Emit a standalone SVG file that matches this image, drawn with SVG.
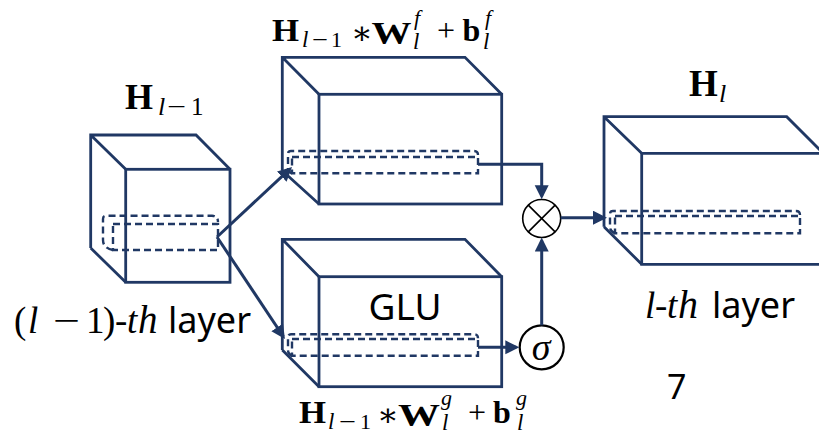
<svg xmlns="http://www.w3.org/2000/svg" width="819" height="434" viewBox="0 0 819 434">
<style>
.e{fill:none;stroke:#203864;stroke-width:2.8}
.d{fill:none;stroke:#203864;stroke-width:2.4;stroke-dasharray:7 4}
.c{fill:none;stroke:#203864;stroke-width:3}
.m{font-family:"Liberation Serif","DejaVu Serif",serif;fill:#000}
.b{font-weight:bold}
.i{font-style:italic}
.s{font-family:"Noto Sans","DejaVu Sans",sans-serif;fill:#000}
.op{fill:#fff;stroke:#000}
</style>
<defs>
<marker id="ah" markerUnits="userSpaceOnUse" markerWidth="15" markerHeight="15" refX="11" refY="7" orient="auto">
<path d="M0,0 L14,7 L0,14 Z" fill="#203864"/>
</marker>
</defs>
<rect width="819" height="434" fill="#fff"/>

<g id="layer-prev">
<path class="e" d="M90.7,248 V135 H196 L230,169.3 M90.7,135 L125.7,169.3 M90.7,248 L125.7,282.3"/>
<rect class="e" x="125.7" y="169.3" width="104.3" height="113"/>
<path class="d" d="M113,250 Q103,248 103,240 V219 Q103,215.7 106,215.7 H212 Q218,216 218,222"/>
<path class="d" d="M113,224 H218 V250 H113 Z"/>
<text class="m" y="109" font-size="36"><tspan class="b" x="125">H</tspan><tspan class="i" x="158" y="115" font-size="26">l</tspan><tspan x="167" y="115" font-size="25" textLength="19" lengthAdjust="spacingAndGlyphs">−</tspan><tspan x="191" y="115" font-size="25">1</tspan></text>
<text y="333" font-size="37"><tspan class="m" x="14">(</tspan><tspan class="m i" x="28">l</tspan><tspan class="m" x="53" textLength="27" lengthAdjust="spacingAndGlyphs">−</tspan><tspan class="m" x="86">1</tspan><tspan class="m" x="103">)</tspan><tspan class="m" x="115">-</tspan><tspan class="m i" x="127">t</tspan><tspan class="m i" x="138" font-size="39">h</tspan><tspan class="s" x="168" font-size="36">layer</tspan></text>
</g>

<g id="conv-f">
<path class="e" d="M282.3,170.7 V57.3 H465 L501.7,94.3 M282.3,57.3 L319,94.3 M282.3,170.7 L319,204"/>
<rect class="e" x="319" y="94.3" width="182.7" height="109.7"/>
<path class="d" d="M292,173.3 Q288,172 288,168 V154 Q288,151 291,151 H474 Q478,151 478,155"/>
<path class="d" d="M292,157 H478 V173.3 H292 Z"/>
<text class="m" y="41" font-size="32"><tspan class="b" x="272" textLength="27" lengthAdjust="spacingAndGlyphs">H</tspan><tspan class="i" x="302" y="47" font-size="23">l</tspan><tspan x="312" y="47" font-size="22" textLength="16" lengthAdjust="spacingAndGlyphs">−</tspan><tspan x="331" y="47" font-size="22">1</tspan><tspan x="351" y="44">∗</tspan><tspan class="b" x="371.5" textLength="40" lengthAdjust="spacingAndGlyphs">W</tspan><tspan class="i" x="414" y="25" font-size="22">f</tspan><tspan class="i" x="413" y="49" font-size="23">l</tspan><tspan x="437" y="41">+</tspan><tspan class="b" x="462.5">b</tspan><tspan class="i" x="485" y="25" font-size="22">f</tspan><tspan class="i" x="483" y="49" font-size="23">l</tspan></text>
</g>

<g id="conv-g">
<path class="e" d="M282.3,350 V239.3 H465 L501.7,276.7 M282.3,239.3 L319,276.7 M282.3,350 L319,386.7"/>
<rect class="e" x="319" y="276.7" width="182.7" height="110"/>
<path class="d" d="M292,355.7 Q288,354 288,350 V337.3 Q288,334.3 291,334.3 H474 Q478,334.3 478,338.3"/>
<path class="d" d="M292,339 H478 V355.7 H292 Z"/>
<text class="s" x="405" y="320" font-size="37" text-anchor="middle">GLU</text>
<text class="m" y="423" font-size="32"><tspan class="b" x="299" textLength="27" lengthAdjust="spacingAndGlyphs">H</tspan><tspan class="i" x="328" y="429" font-size="23">l</tspan><tspan x="339" y="429" font-size="22" textLength="17" lengthAdjust="spacingAndGlyphs">−</tspan><tspan x="360" y="429" font-size="22">1</tspan><tspan x="377" y="426">∗</tspan><tspan class="b" x="398" textLength="42" lengthAdjust="spacingAndGlyphs">W</tspan><tspan class="i" x="441" y="405" font-size="22">g</tspan><tspan class="i" x="442" y="430" font-size="23">l</tspan><tspan x="468" y="423">+</tspan><tspan class="b" x="493">b</tspan><tspan class="i" x="516" y="405" font-size="22">g</tspan><tspan class="i" x="517" y="430" font-size="23">l</tspan></text>
</g>

<g id="mult">
<circle class="op" cx="541.7" cy="218.5" r="19" stroke-width="1.6"/>
<path d="M528.3,205.1 L555.1,231.9 M555.1,205.1 L528.3,231.9" stroke="#000" stroke-width="1.6"/>
</g>

<g id="sigma">
<circle class="op" cx="541.7" cy="347.3" r="22" stroke-width="2.2"/>
<text class="m i" x="541" y="360" font-size="38" text-anchor="middle">σ</text>
</g>

<g id="layer-l">
<path class="e" d="M604,226.7 V116.7 H786.7 L823.4,153.3 M604,116.7 L641.7,153.3 M604,226.7 L641.7,264.3"/>
<path class="e" d="M825,153.3 H641.7 V264.3 H825"/>
<path class="d" d="M615,233.3 Q610,231 610,227 V214 Q610,211 613,211 H796 Q800,211 800,215"/>
<path class="d" d="M615,216 H800 V233.3 H615 Z"/>
<text class="m" y="96" font-size="37"><tspan class="b" x="689">H</tspan><tspan class="i" x="719" y="102" font-size="26">l</tspan></text>
<text y="318" font-size="37"><tspan class="m i" x="645">l</tspan><tspan class="m" x="655">-</tspan><tspan class="m i" x="667">t</tspan><tspan class="m i" x="678" font-size="40">h</tspan><tspan class="s" x="712" font-size="36">layer</tspan></text>
</g>

<g id="note">
<text class="s" x="667" y="399" font-size="34">7</text>
</g>

<g id="connectors">
<line class="c" x1="217" y1="237" x2="289.8" y2="169.1" marker-end="url(#ah)"/>
<line class="c" x1="217" y1="237" x2="283.3" y2="336.5" marker-end="url(#ah)"/>
<path class="c" d="M478,164.3 H541.7 V196.3" marker-end="url(#ah)"/>
<path class="c" d="M478,347.3 H516.3" marker-end="url(#ah)"/>
<path class="c" d="M541.7,325.3 V240.5" marker-end="url(#ah)"/>
<path class="c" d="M560.7,217.7 H604" marker-end="url(#ah)"/>
</g>
</svg>
